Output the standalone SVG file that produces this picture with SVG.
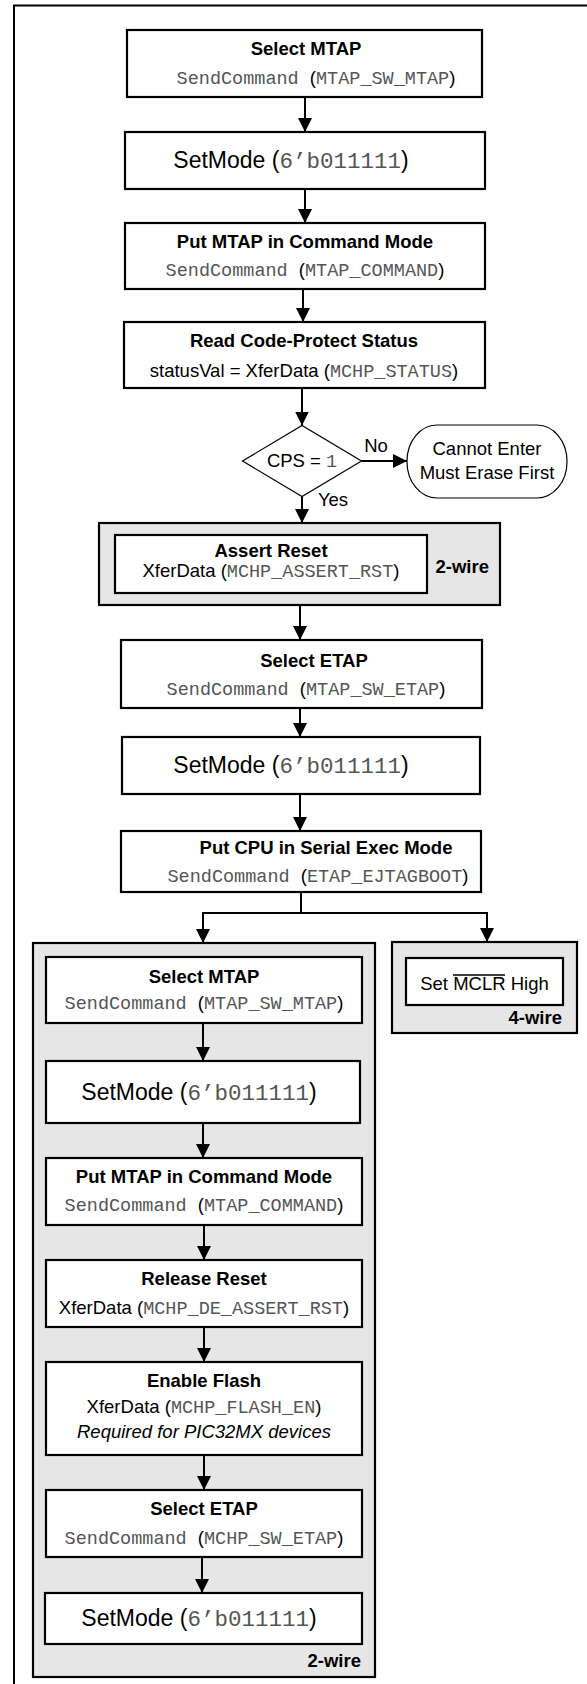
<svg xmlns="http://www.w3.org/2000/svg" width="587" height="1684" viewBox="0 0 587 1684">
<style>
.bx{fill:#fff;stroke:#000;stroke-width:2.2}
.gr{fill:#e6e6e6;stroke:#000;stroke-width:2.2}
.thin{fill:#fff;stroke:#000;stroke-width:1.2}
.ln{fill:none;stroke:#000;stroke-width:2}
text{font-family:"Liberation Sans",Arial,sans-serif;font-size:18.5px;fill:#000;text-anchor:middle}
.b{font-weight:bold}
.m{font-family:"Liberation Mono","Courier New",monospace;font-size:18.5px;fill:#555}
.sm{font-size:23px}
.sm .m{font-size:22.5px}
.it{font-style:italic}
.r{text-anchor:end}
</style>
<defs>
<marker id="ah" markerUnits="userSpaceOnUse" markerWidth="14" markerHeight="14" refX="14" refY="7" orient="auto">
<path d="M0,0 L14,7 L0,14 z" fill="#000"/>
</marker>
</defs>
<g id="frame">
<polyline class="ln" points="14,1684 14,5.5 587,5.5"/>
</g>
<g id="g2wire">
<rect class="gr" x="33" y="943" width="342" height="734"/>
<text class="b r" x="361" y="1667">2-wire</text>
</g>
<g id="g4wire">
<rect class="gr" x="392" y="942" width="185" height="91"/>
<text class="b r" x="562" y="1024">4-wire</text>
</g>
<g id="connectors">
<line class="ln" x1="305" y1="97" x2="305" y2="132" marker-end="url(#ah)"/>
<line class="ln" x1="305" y1="189" x2="305" y2="223" marker-end="url(#ah)"/>
<line class="ln" x1="303" y1="289" x2="303" y2="322" marker-end="url(#ah)"/>
<line class="ln" x1="302" y1="388" x2="302" y2="425.5" marker-end="url(#ah)"/>
<line class="ln" x1="361.5" y1="461" x2="407" y2="461" marker-end="url(#ah)"/>
<line class="ln" x1="302" y1="496.5" x2="302" y2="523" marker-end="url(#ah)"/>
<line class="ln" x1="300" y1="605" x2="300" y2="640" marker-end="url(#ah)"/>
<line class="ln" x1="300" y1="708" x2="300" y2="737" marker-end="url(#ah)"/>
<line class="ln" x1="300" y1="794" x2="300" y2="831" marker-end="url(#ah)"/>
<polyline class="ln" points="301,892 301,913"/>
<polyline class="ln" points="203,913 487,913"/>
<line class="ln" x1="203" y1="912" x2="203" y2="943" marker-end="url(#ah)"/>
<line class="ln" x1="487" y1="912" x2="487" y2="942" marker-end="url(#ah)"/>
<line class="ln" x1="203" y1="1023" x2="203" y2="1061" marker-end="url(#ah)"/>
<line class="ln" x1="203" y1="1123" x2="203" y2="1158" marker-end="url(#ah)"/>
<line class="ln" x1="204" y1="1225" x2="204" y2="1260" marker-end="url(#ah)"/>
<line class="ln" x1="204" y1="1327" x2="204" y2="1362" marker-end="url(#ah)"/>
<line class="ln" x1="204" y1="1455" x2="204" y2="1490" marker-end="url(#ah)"/>
<line class="ln" x1="202" y1="1557" x2="202" y2="1593" marker-end="url(#ah)"/>
</g>
<g id="n1">
<rect class="bx" x="127" y="30" width="355" height="67"/>
<text class="b" x="306" y="55">Select MTAP</text>
<text x="316" y="84"><tspan class="m">SendCommand </tspan>(<tspan class="m">MTAP_SW_MTAP</tspan>)</text>
</g>
<g id="n2">
<rect class="bx" x="125" y="132" width="360" height="57"/>
<text class="sm" x="291" y="168">SetMode (<tspan class="m">6’b011111</tspan>)</text>
</g>
<g id="n3">
<rect class="bx" x="125" y="223" width="360" height="66"/>
<text class="b" x="305" y="248">Put MTAP in Command Mode</text>
<text x="305" y="276"><tspan class="m">SendCommand </tspan>(<tspan class="m">MTAP_COMMAND</tspan>)</text>
</g>
<g id="n4">
<rect class="bx" x="124" y="322" width="361" height="66"/>
<text class="b" x="304" y="347">Read Code-Protect Status</text>
<text x="304" y="377">statusVal = XferData (<tspan class="m">MCHP_STATUS</tspan>)</text>
</g>
<g id="n5">
<polygon class="thin" points="242.5,461 302,425.5 361.5,461 302,496.5"/>
<text x="302" y="467">CPS = <tspan class="m">1</tspan></text>
<text x="376" y="452">No</text>
<text x="333" y="506">Yes</text>
</g>
<g id="n6">
<rect class="thin" x="407" y="425" width="160" height="73" rx="30" ry="36"/>
<text x="487" y="455">Cannot Enter</text>
<text x="487" y="479">Must Erase First</text>
</g>
<g id="n7">
<rect class="gr" x="99" y="523" width="401" height="82"/>
<rect class="bx" x="115" y="535" width="312" height="58"/>
<text class="b" x="271" y="557">Assert Reset</text>
<text x="271" y="577">XferData (<tspan class="m">MCHP_ASSERT_RST</tspan>)</text>
<text class="b r" x="489" y="573">2-wire</text>
</g>
<g id="n8">
<rect class="bx" x="121" y="640" width="361" height="68"/>
<text class="b" x="314" y="667">Select ETAP</text>
<text x="306" y="695"><tspan class="m">SendCommand </tspan>(<tspan class="m">MTAP_SW_ETAP</tspan>)</text>
</g>
<g id="n9">
<rect class="bx" x="122" y="737" width="358" height="57"/>
<text class="sm" x="291" y="773">SetMode (<tspan class="m">6’b011111</tspan>)</text>
</g>
<g id="n10">
<rect class="bx" x="121" y="831" width="360" height="61"/>
<text class="b" x="326" y="854">Put CPU in Serial Exec Mode</text>
<text x="318" y="882"><tspan class="m">SendCommand </tspan>(<tspan class="m">ETAP_EJTAGBOOT</tspan>)</text>
</g>
<g id="n11">
<rect class="bx" x="406" y="958" width="157" height="47"/>
<text x="484.5" y="990">Set MCLR High</text>
<line x1="453" y1="975" x2="505" y2="975" stroke="#000" stroke-width="1.3"/>
</g>
<g id="i1">
<rect class="bx" x="46" y="957" width="316" height="66"/>
<text class="b" x="204" y="983">Select MTAP</text>
<text x="204" y="1009"><tspan class="m">SendCommand </tspan>(<tspan class="m">MTAP_SW_MTAP</tspan>)</text>
</g>
<g id="i2">
<rect class="bx" x="46" y="1061" width="314" height="62"/>
<text class="sm" x="199" y="1100">SetMode (<tspan class="m">6’b011111</tspan>)</text>
</g>
<g id="i3">
<rect class="bx" x="46" y="1158" width="316" height="67"/>
<text class="b" x="204" y="1183">Put MTAP in Command Mode</text>
<text x="204" y="1211"><tspan class="m">SendCommand </tspan>(<tspan class="m">MTAP_COMMAND</tspan>)</text>
</g>
<g id="i4">
<rect class="bx" x="46" y="1260" width="316" height="67"/>
<text class="b" x="204" y="1285">Release Reset</text>
<text x="204" y="1314">XferData (<tspan class="m">MCHP_DE_ASSERT_RST</tspan>)</text>
</g>
<g id="i5">
<rect class="bx" x="46" y="1362" width="316" height="93"/>
<text class="b" x="204" y="1387">Enable Flash</text>
<text x="204" y="1413">XferData (<tspan class="m">MCHP_FLASH_EN</tspan>)</text>
<text class="it" x="204" y="1438">Required for PIC32MX devices</text>
</g>
<g id="i6">
<rect class="bx" x="46" y="1490" width="316" height="67"/>
<text class="b" x="204" y="1515">Select ETAP</text>
<text x="204" y="1544"><tspan class="m">SendCommand </tspan>(<tspan class="m">MCHP_SW_ETAP</tspan>)</text>
</g>
<g id="i7">
<rect class="bx" x="45" y="1593" width="317" height="51"/>
<text class="sm" x="199" y="1626">SetMode (<tspan class="m">6’b011111</tspan>)</text>
</g>
</svg>
